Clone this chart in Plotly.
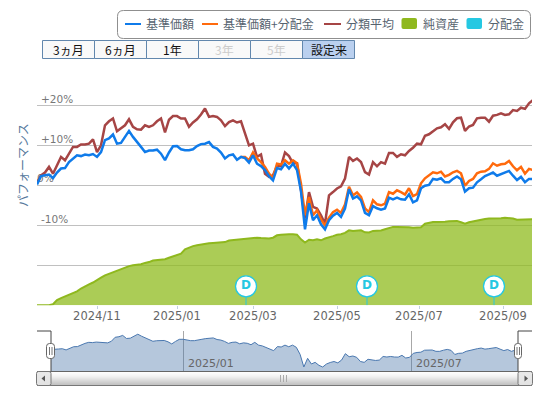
import plotly.graph_objects as go

W, H = 548, 394

base_price = [0.2,2.3,2.5,2.7,1.8,3.2,4.2,4.3,5.8,6.7,7.5,7.3,7.7,7.5,7.8,7.1,8.3,11.3,11.7,12.7,
 10.4,10.6,12.1,13.6,12.1,10.7,9.6,8.3,8.7,8.7,8.9,7.9,6.3,8.2,9.75,9.8,9.0,8.75,8.75,9.0,
 9.8,10.3,10.4,10.8,9.6,9.2,8.2,6.7,7.5,7.7,6.4,7.1,6.8,5.7,7.5,5.4,4.8,3.8,2.3,1.25,
 4.3,4.0,5.4,4.2,5.4,3.8,-1.5,-11,-4.5,-8.75,-7.5,-9.75,-11,-8.75,-7.6,-6.9,-7.9,-5.8,-1,-3.3,
 -2.75,-3.75,-6.9,-7.5,-5.2,-5.75,-6.1,-5.8,-3.1,-3.5,-3.1,-3.5,-3.6,-2.25,-4.25,-3.75,-0.75,-0.1,0.1,1.6,
 1.4,1.75,0.75,0.75,1.6,2.2,1.5,-1.6,-0.75,-0.6,0.75,1.5,2.3,2.75,3.2,2.4,2.75,3.1,3.6,2.4,
 1.3,2.1,0.75,1.6,1.6]

with_dist_start = 51
with_dist = [7.1,7.1,6.25,8.2,6.7,5.8,4.6,2.9,1.8,5.4,5.2,6.25,5.4,6.25,5.5,0.4,-7.5,-2.9,-7.5,-6.25,
 -8.6,-10,-8.1,-6.7,-6.1,-6.9,-4.8,-0.4,-2.5,-1.8,-2.9,-5.8,-6.7,-3.75,-4.75,-5,-4.6,-1.7,-2.1,-1.25,
 -1.7,-2.3,-0.75,-2.7,-2.2,0.5,1.75,2.4,3.25,3.0,3.4,2.2,2.6,3.25,3.6,3.0,-0.1,1.1,1.6,3.0,
 3.4,3.5,4.1,5.5,4.9,5.25,5.4,6.1,4.75,3.75,4.6,2.9,4.1,3.8]

category_avg = [0.7,2.5,3.2,4.6,2.9,5,7.1,6.25,7.9,9.6,9.6,10.2,10.2,10.4,11.5,8.3,10,15,16,16.7,
 13.5,14.2,15,16.5,14.6,14,13.9,15,14.6,15,16,16.7,13.2,16.4,17.3,17.3,16.7,16.7,14.6,15.7,
 16.5,17.7,19.2,17.1,17.3,17.1,16.25,14.8,15.8,16.25,15.7,16,12.9,10,10.4,7.1,7.7,2.9,2.1,2.5,
 4.8,4.8,8.2,7.3,5.5,5.5,-1.25,-8.3,-1.7,-5.4,-5.8,-7.5,-9.6,-2.5,-1.7,-0.8,-0.25,1.7,7.1,6.1,
 6.7,5.8,3.3,2.7,5.8,4.75,5.8,5.4,8.1,8.1,7.1,7.75,7.5,8.6,9.4,10.4,10.25,12.4,12.75,13.6,
 14.25,14.5,15.25,14.1,15.75,16.75,16.9,13.6,14.7,15.1,16.75,16.9,16.9,15.9,17.4,17.6,18,17.6,17.75,18.8,
 18.6,19.4,19.1,20.5,21.3]

net_assets = [0,0,0,0,0.25,1.3,1.8,2.2,2.5,2.9,3.5,4.2,4.8,5.25,5.7,6.2,6.9,7.5,7.9,8.3,
 8.6,9.2,9.6,9.8,10,10.1,10.25,10.6,10.8,11.2,11.3,11.4,11.5,11.9,12.3,12.6,12.9,14,14.5,14.8,
 15,15.2,15.3,15.5,15.6,15.7,15.7,15.8,16.2,16.3,16.5,16.6,16.7,16.8,16.9,16.9,16.8,16.8,16.7,16.9,
 17.5,17.65,17.75,17.75,17.75,17.65,16.5,15.7,16.4,16.25,16.5,16.25,16.7,17.1,17.3,17.65,17.75,18.1,18.75,18.6,
 18.7,18.75,18.25,18.2,18.6,18.6,18.7,19,19.3,19.6,19.6,19.6,19.6,19.5,19.4,19.4,19.5,20.4,20.6,20.8,
 20.8,20.8,20.9,21,21.1,21.1,20.75,20.4,20.75,21,21.25,21.4,21.6,21.7,21.7,21.7,21.75,21.9,21.8,21.7,
 21.4,21.4,21.4,21.5,21.5]

sessions = [i * 2 for i in range(len(base_price))]     # trading-day position on the ordinal axis
dist_sessions = [104.5, 165, 228.5]
dist_marker_level = [4.75, 4.75, 4.75]
tick_sessions = [30, 70, 108, 150, 191, 233]
tick_labels = ["2024/11", "2025/01", "2025/03", "2025/05", "2025/07", "2025/09"]
nav_tick_sessions = [70, 191]
nav_tick_labels = ["2025/01", "2025/07"]
y_ticks = [-30, -20, -10, 0, 10, 20, 30.25]
y_labels = {20: "+20%", 10: "+10%", -10: "-10%"}
nav_floor = -14
range_buttons = ["3ヵ月", "6ヵ月", "1年", "3年", "5年", "設定来"]
legend_names = ["基準価額", "基準価額+分配金", "分類平均", "純資産", "分配金"]

BLUE, ORANGE, RED = "#0f7bea", "#ff6a0d", "#a64545"
GREEN_LINE, CYAN = "#8fb81e", "#25c8e2"
JP = "Noto Sans CJK JP"
LAT = "DejaVu Sans"

px = lambda x: x / W
py = lambda y: 1 - y / H


def rrect(x0, y0, x1, y1, r):
    a0, b0, a1, b1 = px(x0), py(y0), px(x1), py(y1)
    rx, ry = r / W, r / H
    return (f"M{a0+rx},{b0} L{a1-rx},{b0} Q{a1},{b0} {a1},{b0-ry} L{a1},{b1+ry} Q{a1},{b1} {a1-rx},{b1} "
            f"L{a0+rx},{b1} Q{a0},{b1} {a0},{b1+ry} L{a0},{b0-ry} Q{a0},{b0} {a0+rx},{b0} Z")


fig = go.Figure()
common = dict(mode="lines", showlegend=False, hoverinfo="skip")
fig.add_trace(go.Scatter(x=sessions, y=category_avg, name=legend_names[2], line=dict(color=RED, width=2.5), xaxis="x", yaxis="y", **common))
fig.add_trace(go.Scatter(x=sessions[with_dist_start:], y=with_dist, name=legend_names[1], line=dict(color=ORANGE, width=2.5), xaxis="x", yaxis="y", **common))
fig.add_trace(go.Scatter(x=sessions, y=base_price, name=legend_names[0], line=dict(color=BLUE, width=2.5), xaxis="x", yaxis="y", **common))
fig.add_trace(go.Scatter(x=sessions, y=net_assets, name=legend_names[3], fill="tozeroy", fillcolor="rgba(143,187,30,0.75)",
                         line=dict(color=GREEN_LINE, width=2), xaxis="x", yaxis="y3", **common))
fig.add_trace(go.Scatter(x=dist_sessions, y=dist_marker_level, name=legend_names[4], mode="markers+text", text=["D"] * 3,
                         textposition="middle center", textfont=dict(family=LAT, size=12, color=CYAN, weight="bold"),
                         marker=dict(size=21, color="white", line=dict(color=CYAN, width=1.3)),
                         error_y=dict(type="data", symmetric=False, array=[0, 0, 0], arrayminus=dist_marker_level,
                                      color=CYAN, thickness=1, width=0),
                         showlegend=False, hoverinfo="skip", xaxis="x", yaxis="y3"))
fig.add_trace(go.Scatter(x=sessions, y=[nav_floor] * len(sessions), mode="lines", line=dict(width=0), showlegend=False,
                         hoverinfo="skip", xaxis="x2", yaxis="y2"))
fig.add_trace(go.Scatter(x=sessions, y=base_price, mode="lines", fill="tonexty", fillcolor="rgba(69,114,167,0.4)",
                         line=dict(color="#4a78b0", width=1), showlegend=False, hoverinfo="skip", xaxis="x2", yaxis="y2"))

shapes, ann = [], []


def text(x, y, s, size=12, color="#56636f", family=JP, anchor="left", **kw):
    ann.append(dict(x=px(x - (2 if anchor == "left" else 0)), y=py(y), xref="paper", yref="paper", text=s, showarrow=False,
                    xanchor=anchor, yanchor="middle", font=dict(family=family, size=size, color=color), **kw))


def rect(x0, y0, x1, y1, fill, line=None, lw=1):
    shapes.append(dict(type="rect", xref="paper", yref="paper", x0=px(x0), y0=py(y0), x1=px(x1), y1=py(y1), fillcolor=fill,
                       line=dict(color=line or fill, width=lw if line else 0)))


def line(x0, y0, x1, y1, color, lw=1):
    shapes.append(dict(type="line", xref="paper", yref="paper", x0=px(x0), y0=py(y0), x1=px(x1), y1=py(y1), line=dict(color=color, width=lw)))


# legend
shapes.append(dict(type="path", xref="paper", yref="paper", path=rrect(117.5, 10.5, 530.5, 38.5, 6), fillcolor="white", line=dict(color="#8f8f8f", width=1)))
line(125, 24, 141, 24, BLUE, 2)
text(146, 24, legend_names[0])
line(202, 24, 218, 24, ORANGE, 2)
text(223, 24, legend_names[1])
line(324, 24, 341, 24, RED, 2)
text(346, 24, legend_names[2])
shapes.append(dict(type="path", xref="paper", yref="paper", path=rrect(401.5, 18, 417, 29, 2), fillcolor=GREEN_LINE, line=dict(width=0)))
text(422.5, 24, legend_names[3])
shapes.append(dict(type="path", xref="paper", yref="paper", path=rrect(466.5, 18, 482, 29, 2), fillcolor=CYAN, line=dict(width=0)))
text(488, 24, legend_names[4])

# range selector
edges = [42.5, 94.5, 146.5, 198.5, 250.5, 302.5, 354.5]
for i, label in enumerate(range_buttons):
    selected = i == 5
    disabled = i in (3, 4)
    rect(edges[i], 40.5, edges[i + 1], 58.5, "#bad0ef" if selected else "#f9f9f9", "#6287ad", 1)
    text((edges[i] + edges[i + 1]) / 2, 49.5, label, size=12, anchor="center", color="#cccccc" if disabled else "#111111")

# y axis title and inside labels
text(22, 165, "パフォーマンス", size=12, color="#55789c", anchor="center", textangle=-90)
for v, s in y_labels.items():
    ann.append(dict(x=0, y=v, xref="x", yref="y", text=s, showarrow=False, xanchor="left", yanchor="bottom", xshift=2, yshift=-2,
                    font=dict(family=LAT, size=10.5, color="#777777")))
# the 0% label sits under the lines, so it is carried by a below-layer shape
shapes.append(dict(type="line", xref="x", yref="y", x0=0, x1=30, y0=0, y1=0, layer="below", line=dict(color="rgba(0,0,0,0)", width=0),
                   label=dict(text="0%", textposition="start", yanchor="bottom", padding=2,
                              font=dict(family=LAT, size=10.5, color="#777777"))))

# navigator labels
for v, s in zip(nav_tick_sessions, nav_tick_labels):
    ann.append(dict(x=v, y=nav_floor, xref="x2", yref="y2", text=s, showarrow=False, xanchor="left", yanchor="bottom", xshift=3, yshift=-1,
                    font=dict(family=LAT, size=11, color="#666666")))

# navigator frame
for pts in ([37, 331, 51, 331], [51, 331, 51, 371], [518, 331, 518, 371], [518, 331, 532, 331]):
    line(*pts, "#444444", 1)

# scrollbar
for k, c in enumerate(["#fdfdfd", "#fbfbfb", "#f8f8f8", "#f5f5f5", "#f1f1f1", "#ececec", "#e6e6e6", "#e0e0e0", "#dadada", "#d4d4d4", "#cecece", "#c8c8c8", "#c4c4c4"]):
    rect(37, 372 + k, 532, 373 + k, c)
line(37, 371.5, 532, 371.5, "#666666", 1)
line(37, 385.5, 532, 385.5, "#777777", 1)
shapes.append(dict(type="path", xref="paper", yref="paper", path=rrect(36.5, 371.5, 51, 385.5, 2), fillcolor="rgba(230,230,230,0.9)", line=dict(color="#777777", width=1)))
shapes.append(dict(type="path", xref="paper", yref="paper", path=rrect(518, 371.5, 532.5, 385.5, 2), fillcolor="rgba(230,230,230,0.9)", line=dict(color="#777777", width=1)))
shapes.append(dict(type="path", xref="paper", yref="paper",
                   path=f"M{px(41.5)},{py(378.5)} L{px(45)},{py(375.5)} L{px(45)},{py(381.5)} Z", fillcolor="#555555", line=dict(width=0)))
shapes.append(dict(type="path", xref="paper", yref="paper",
                   path=f"M{px(528)},{py(378.5)} L{px(524.5)},{py(375.5)} L{px(524.5)},{py(381.5)} Z", fillcolor="#555555", line=dict(width=0)))
for gx in (280.5, 283.5, 286.5):
    line(gx, 375, gx, 382, "#aaaaaa", 1)

# navigator handles
for x0, x1 in ((46.5, 54.5), (514.5, 521.5)):
    shapes.append(dict(type="path", xref="paper", yref="paper", path=rrect(x0, 343.5, x1, 358.5, 3), fillcolor="white", line=dict(color="#666666", width=1)))
    mid = (x0 + x1) / 2
    line(mid - 1, 347, mid - 1, 355, "#777777", 1)
    line(mid + 1.5, 347, mid + 1.5, 355, "#777777", 1)

fig.update_layout(
    width=W, height=H, autosize=False, margin=dict(l=0, r=0, t=0, b=0), paper_bgcolor="white", plot_bgcolor="rgba(0,0,0,0)",
    showlegend=False, shapes=shapes, annotations=ann,
    xaxis=dict(domain=[px(37), px(532)], range=[0, 247.5], tickmode="array", tickvals=tick_sessions, ticktext=tick_labels,
               ticks="outside", ticklen=3, tickcolor="#c0d0e0", ticklabelstandoff=-3, tickfont=dict(family=LAT, size=11.5, color="#666666"), showgrid=False,
               zeroline=False, showline=False, anchor="y"),
    yaxis=dict(domain=[1 - 305.3 / H, 1 - 64.3 / H], range=[-30, 30.25], tickmode="array", tickvals=y_ticks, showticklabels=False,
               gridcolor="#c0c0c0", gridwidth=1, zeroline=False, showline=False, anchor="x"),
    yaxis3=dict(overlaying="y", range=[0, 60.25], visible=False, anchor="x"),
    xaxis2=dict(domain=[px(51), px(518)], range=[0, 247.5], tickmode="array", tickvals=nav_tick_sessions, showticklabels=False,
                gridcolor="#a8a8a8", gridwidth=1, zeroline=False, showline=False, ticks="", anchor="y2"),
    yaxis2=dict(domain=[1 - 371 / H, 1 - 331 / H], range=[nav_floor, 16], visible=False, anchor="x2"),
)

fig.write_html("out.html", config=dict(displayModeBar=False), post_script="document.body.style.margin='0';document.body.style.overflow='hidden';")
